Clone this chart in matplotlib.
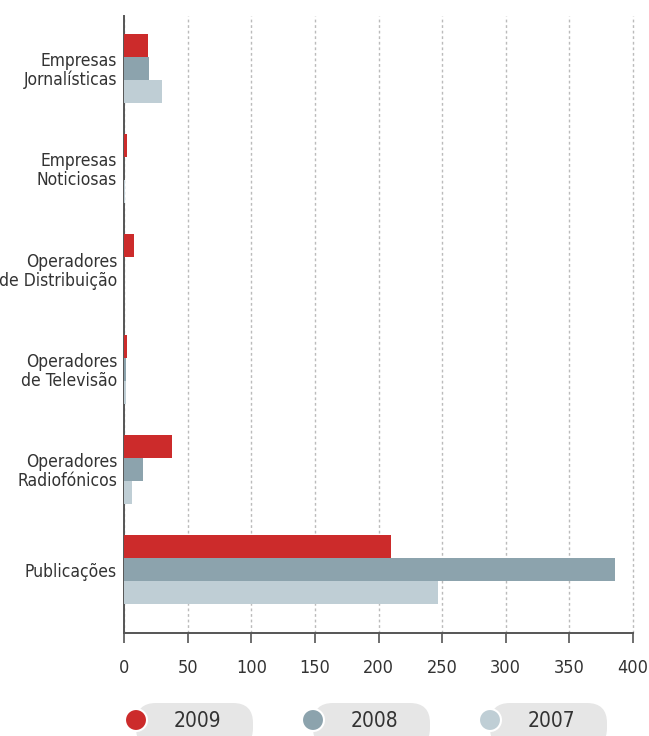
import matplotlib

matplotlib.use("Agg")

import matplotlib.pyplot as plt
import numpy as np
from matplotlib.patches import Circle, FancyBboxPatch
from matplotlib.transforms import IdentityTransform

plt.rcParams["font.family"] = ["DejaVu Sans"]
plt.rcParams["font.stretch"] = "condensed"

categories = [
    "Empresas\nJornalísticas",
    "Empresas\nNoticiosas",
    "Operadores\nde Distribuição",
    "Operadores\nde Televisão",
    "Operadores\nRadiofónicos",
    "Publicações",
]
years = ["2009", "2008", "2007"]
values_2009 = [19, 2, 8, 2, 38, 210]
values_2008 = [20, 0, 0, 1.5, 15, 386]
values_2007 = [30, 1, 0, 1.5, 6, 247]
x_ticks = [0, 50, 100, 150, 200, 250, 300, 350, 400]

colors = ["#cc2b2b", "#8ca3ad", "#bfced5"]
text_color = "#333333"

W, H = 649, 736
fig = plt.figure(figsize=(W / 100, H / 100), dpi=100)
ax = fig.add_axes([124 / W, 1 - 633 / H, (633 - 124) / W, (633 - 16) / H])

y = np.arange(len(categories))
bar_h = 0.23
series = [values_2009, values_2008, values_2007]
for i, (vals, col) in enumerate(zip(series, colors)):
    ax.barh(y + (i - 1) * bar_h, vals, height=bar_h, color=col, zorder=3)

ax.set_xlim(0, 400)
ax.set_ylim(len(categories) - 1 + 0.63, -0.52)
ax.set_xticks(x_ticks)
ax.set_xticklabels([str(t) for t in x_ticks], fontsize=13, color=text_color)
ax.set_yticks(y)
ax.set_yticklabels(categories, fontsize=12.5, color=text_color, linespacing=1.05)
ax.tick_params(axis="y", length=0, pad=5)
ax.tick_params(axis="x", length=7, width=1.2, color="#555555", pad=12)

ax.xaxis.grid(True, linestyle=(0, (2, 2)), color="#bbbbbb", linewidth=1, zorder=0)
for line in ax.get_xgridlines():
    line.set_clip_on(False)
for side in ["top", "right"]:
    ax.spines[side].set_visible(False)
for side in ["left", "bottom"]:
    ax.spines[side].set_color("#555555")
    ax.spines[side].set_linewidth(1.4)

# legend pills along the bottom edge
legend_x = [136, 313, 490]
for cx, label, col in zip(legend_x, years, colors):
    pill = FancyBboxPatch((cx, -12), 117, 45, boxstyle="round,pad=0,rounding_size=20",
                          facecolor="#e6e6e6", edgecolor="none", transform=IdentityTransform())
    fig.patches.append(pill)
    dot = Circle((cx, 16), 11, facecolor=col, edgecolor="white", linewidth=1.5,
                 transform=IdentityTransform())
    fig.patches.append(dot)
    fig.text((cx + 61) / W, 15 / H, label, fontsize=15, color=text_color,
             ha="center", va="center")

fig.savefig("out.png", dpi=100)
